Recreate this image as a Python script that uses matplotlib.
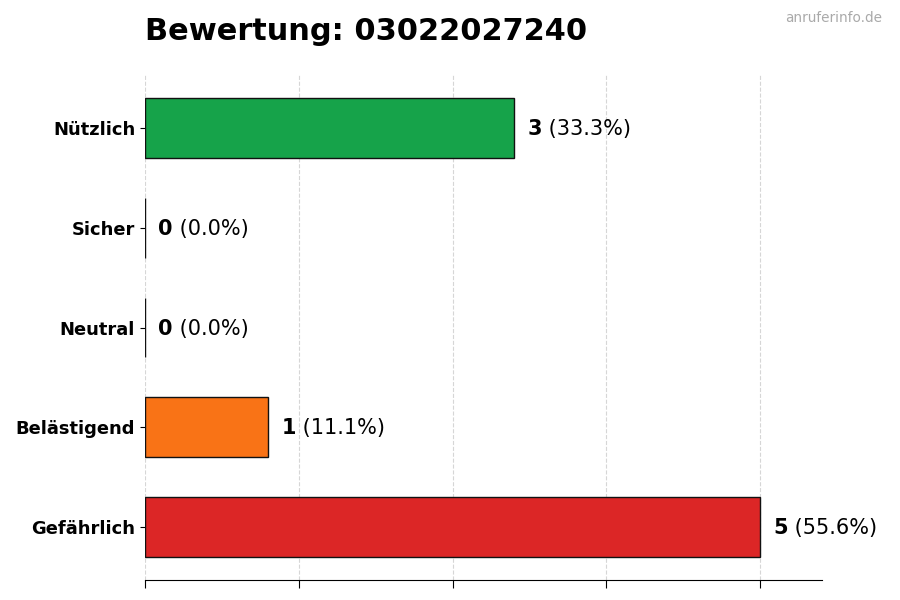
import matplotlib
matplotlib.use("Agg")
import matplotlib.pyplot as plt

categories = ["Gefährlich", "Belästigend", "Neutral", "Sicher", "Nützlich"]
counts = [5, 1, 0, 0, 3]
colors = ["#dc2626", "#f97316", "#9ca3af", "#3b82f6", "#16a34a"]
title = "Bewertung: 03022027240"
watermark = "anruferinfo.de"

total = sum(counts)

fig = plt.figure(figsize=(9, 6), dpi=100)
ax = fig.add_axes([0.161, 0.0333, 0.752, 0.8417])

y = list(range(len(categories)))
ax.barh(y, counts, height=0.6, color=colors, edgecolor="#111111", linewidth=1.0, zorder=3)

ax.set_yticks(y)
ax.set_yticklabels(categories, fontsize=12.9, fontweight="bold")
ax.set_xlim(0, max(counts) * 1.1)
ax.set_xticks([0, 1.25, 2.5, 3.75, 5])
ax.set_xticklabels([])
ax.tick_params(axis="x", length=6)
ax.grid(axis="x", linestyle="--", color="#cccccc", alpha=0.8, zorder=0)
for s in ["top", "right", "left"]:
    ax.spines[s].set_visible(False)

off = max(counts) * 0.022
for yi, c in zip(y, counts):
    pct = c / total * 100 if total else 0
    t1 = ax.text(c + off, yi - 0.01, f"{c}", fontsize=15, fontweight="bold", va="center", ha="left", zorder=4)
    ax.annotate(f" ({pct:.1f}%)", xy=(1, 0.5), xycoords=t1, va="center", ha="left", fontsize=15)

fig.text(0.161, 0.947, title, fontsize=21.9, fontweight="bold", va="center", ha="left")
fig.text(0.98, 0.97, watermark, fontsize=9.8, color="#aaaaaa", va="center", ha="right")

fig.savefig("out.png", dpi=100)
